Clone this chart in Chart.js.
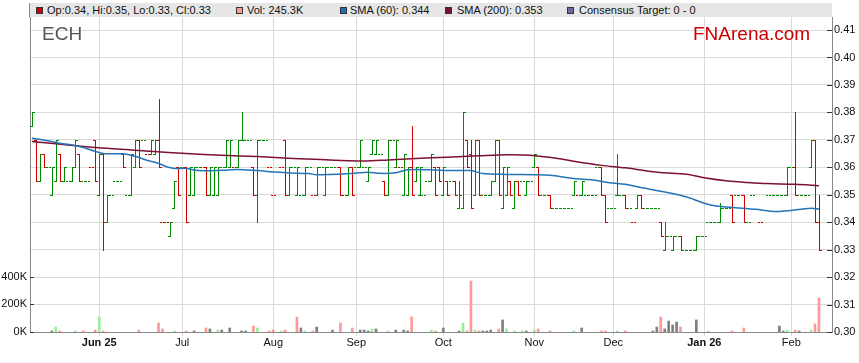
<!DOCTYPE html>
<html>
<head>
<meta charset="utf-8">
<script src="https://cdn.jsdelivr.net/npm/chart.js@4.4.1/dist/chart.umd.min.js"></script>
<style>
  body { margin: 0; background: #fff; font-family: "Liberation Sans", Arial, sans-serif; }
  #wrap { position: relative; width: 859px; height: 363px; }
  #wrap canvas { position: absolute; left: 0; top: 0; }
  #legend { position: absolute; left: 29px; top: 3px; width: 802px; height: 14px; background: #e6e6e6;
            border-left: 1px solid #888; font-size: 11px; line-height: 14px; color: #111; z-index: 2; }
  #legend .sw { position: absolute; top: 4px; width: 7px; height: 7px; box-sizing: border-box; border: 1px solid #333; }
  #legend .tx { position: absolute; top: 0; white-space: nowrap; }
  .mark { position: absolute; top: 24px; font-size: 19px; line-height: 19px; white-space: nowrap; z-index: 2; }
</style>
</head>
<body>
<div id="wrap">
  <canvas id="chart"></canvas>
  <div id="legend">
    <span class="sw" style="left:6px;background:#cc0000"></span><span class="tx" style="left:17px">Op:0.34, Hi:0.35, Lo:0.33, Cl:0.33</span>
    <span class="sw" style="left:206px;background:#ff9999"></span><span class="tx" style="left:217px">Vol: 245.3K</span>
    <span class="sw" style="left:310px;background:#1f6fb4"></span><span class="tx" style="left:320px">SMA (60): 0.344</span>
    <span class="sw" style="left:415px;background:#7d1035"></span><span class="tx" style="left:427px">SMA (200): 0.353</span>
    <span class="sw" style="left:537px;background:#6a6a9a"></span><span class="tx" style="left:549px">Consensus Target: 0 - 0</span>
  </div>
  <div class="mark" style="left:42px;color:#555">ECH</div>
  <div class="mark" style="left:693px;color:#cc0000">FNArena.com</div>
</div>
<script>
// x = trading-day index (weekdays), 0 = 8 May 2025, 199 = 11 Feb 2026
const monthIdx = [17, 38, 61, 82, 104, 127, 147, 170, 192];
const monthLabels = ['Jun 25', 'Jul', 'Aug', 'Sep', 'Oct', 'Nov', 'Dec', 'Jan 26', 'Feb'];
const priceTicks = [0.30, 0.31, 0.32, 0.33, 0.34, 0.35, 0.36, 0.37, 0.38, 0.39, 0.40, 0.41];
const volTicks = [0, 200, 400];

const open = [
  .375,.37,.355,.365,.36,.35,.355,.365,.355,.355,
  .355,.36,.365,.355,.355,.36,.37,.35,.365,.34,
  .35,.355,.355,.365,.35,.35,.36,.37,.37,.365,
  .365,.365,.37,.34,.34,.335,.345,.36,.36,.36,
  .35,.35,.36,.36,.36,.35,.35,.35,.36,.36,
  .36,.36,.36,.37,.37,.37,.36,.35,.37,.37,
  .36,.35,null,.36,.37,.35,.36,.35,.35,.35,
  .36,.35,.35,.36,.35,.36,.36,.36,.36,.35,
  .35,.36,.36,.36,.36,.355,.365,.365,.365,.355,
  .35,.37,.36,.36,.35,.35,.36,.355,.35,.35,
  .355,.355,.36,.36,.35,.355,.355,.355,.345,.345,
  .37,.365,.35,.37,.35,.35,.35,.355,.37,.345,
  .35,.355,.345,.355,.355,.35,.355,.36,.36,.35,
  .35,.35,.345,.345,.345,.345,.345,.35,.35,.35,
  .35,.35,.35,.36,.36,.35,.345,.345,.35,.35,
  .35,.345,.34,.345,.35,.345,.345,.345,.345,.34,
  .33,.335,.33,.335,.335,.33,.33,.33,.33,.335,
  .335,.34,.34,.34,.34,.345,.345,.35,.35,.35,
  .35,.34,.35,null,.34,null,.35,.35,.35,.35,
  .35,.35,.36,.36,.35,.35,.35,.36,.37,.34
];
const high = [
  .38,.37,.365,.365,.36,.36,.37,.365,.36,.355,
  .36,.37,.365,.355,.355,.36,.37,.365,.365,.35,
  .35,.355,.355,.365,.35,.365,.37,.37,.37,.365,
  .37,.37,.385,.34,.34,.34,.355,.36,.36,.36,
  .36,.36,.36,.36,.36,.36,.36,.36,.36,.37,
  .37,.36,.37,.38,.37,.37,.36,.37,.37,.37,
  .36,.35,null,.36,.37,.36,.36,.36,.35,.36,
  .36,.35,.36,.36,.36,.36,.36,.36,.36,.35,
  .36,.36,.36,.37,.36,.36,.37,.37,.365,.355,
  .37,.37,.37,.36,.365,.36,.375,.36,.36,.35,
  .355,.365,.36,.36,.36,.355,.355,.355,.355,.38,
  .37,.37,.37,.37,.35,.35,.355,.37,.37,.36,
  .36,.355,.355,.355,.355,.355,.355,.365,.36,.35,
  .35,.35,.345,.345,.345,.345,.345,.355,.35,.355,
  .35,.35,.35,.36,.36,.35,.345,.345,.365,.35,
  .35,.345,.34,.35,.35,.345,.345,.345,.345,.34,
  .34,.335,.335,.335,.335,.33,.33,.33,.335,.335,
  .335,.34,.34,.34,.347,.345,.345,.35,.35,.35,
  .35,.34,.35,null,.34,null,.35,.35,.35,.35,
  .35,.36,.36,.38,.35,.35,.35,.37,.37,.35
];
const low = [
  .375,.355,.355,.36,.36,.35,.355,.355,.355,.355,
  .355,.36,.355,.355,.355,.36,.355,.35,.33,.34,
  .35,.355,.355,.36,.35,.35,.36,.36,.37,.365,
  .365,.365,.36,.34,.34,.335,.345,.35,.36,.34,
  .35,.35,.36,.36,.35,.35,.35,.35,.36,.36,
  .36,.36,.36,.37,.37,.37,.35,.34,.37,.37,
  .36,.35,null,.36,.35,.35,.36,.35,.35,.35,
  .36,.35,.35,.36,.35,.36,.36,.36,.35,.35,
  .35,.35,.36,.36,.36,.355,.365,.365,.365,.35,
  .35,.37,.36,.36,.35,.35,.35,.355,.35,.35,
  .355,.355,.35,.355,.35,.35,.355,.35,.345,.345,
  .36,.345,.35,.35,.35,.35,.35,.355,.35,.345,
  .35,.35,.345,.35,.355,.35,.355,.36,.35,.35,
  .35,.345,.345,.345,.345,.345,.345,.35,.35,.35,
  .35,.35,.35,.36,.35,.34,.345,.345,.35,.35,
  .345,.345,.34,.345,.345,.345,.345,.345,.345,.335,
  .33,.335,.33,.335,.33,.33,.33,.33,.33,.335,
  .335,.34,.34,.34,.34,.345,.345,.34,.35,.35,
  .34,.34,.35,null,.34,null,.35,.35,.35,.35,
  .35,.35,.36,.35,.35,.35,.35,.36,.34,.33
];
const close = [
  .38,.355,.365,.36,.36,.36,.37,.355,.36,.355,
  .36,.37,.355,.355,.355,.36,.355,.365,.34,.35,
  .35,.355,.355,.36,.35,.365,.37,.36,.37,.365,
  .37,.37,.36,.34,.34,.34,.355,.35,.36,.34,
  .36,.36,.36,.36,.35,.36,.36,.36,.36,.37,
  .37,.36,.37,.37,.37,.37,.35,.37,.37,.37,
  .36,.35,null,.36,.35,.36,.36,.36,.35,.36,
  .36,.35,.36,.36,.36,.36,.36,.36,.35,.35,
  .36,.35,.36,.37,.36,.36,.37,.37,.365,.35,
  .37,.37,.37,.36,.365,.36,.35,.36,.36,.35,
  .355,.365,.35,.355,.36,.35,.355,.35,.35,.38,
  .36,.345,.37,.35,.35,.35,.355,.37,.35,.36,
  .36,.35,.355,.35,.355,.355,.355,.365,.35,.35,
  .35,.345,.345,.345,.345,.345,.345,.355,.35,.355,
  .35,.35,.35,.36,.35,.34,.345,.345,.35,.35,
  .345,.345,.34,.35,.345,.345,.345,.345,.345,.335,
  .335,.335,.335,.335,.33,.33,.33,.33,.335,.335,
  .335,.34,.34,.34,.345,.345,.345,.34,.35,.35,
  .34,.34,.35,null,.34,null,.35,.35,.35,.35,
  .35,.36,.36,.35,.35,.35,.35,.37,.34,.33
];
// unchanged days that were drawn red
const flatDown = [15, 29, 33, 34, 51, 60, 61, 63, 71, 79, 93, 138, 152, 184];

// volume in thousands; u = up, d = down, n = unchanged
const volDay = [5,6,7,11,13,16,17,18,27,32,33,36,39,41,44,45,47,48,50,53,54,56,57,60,61,63,64,67,68,69,
  71,72,76,78,81,83,84,85,86,87,90,92,94,95,96,101,102,104,108,109,110,111,112,113,114,115,116,118,119,120,
  122,124,125,127,128,131,137,139,144,145,148,150,157,158,159,160,161,162,163,164,168,171,177,180,189,190,191,193,194,197,198,199];
const volK = [7,36,7,7,7,14,108,7,14,65,22,7,7,7,29,22,14,14,29,7,7,43,29,7,14,7,14,108,29,7,
  7,36,14,65,29,14,14,7,22,22,7,14,14,7,108,14,7,29,7,65,7,368,14,7,7,7,14,22,87,22,
  7,7,7,14,22,7,7,29,7,7,7,7,7,36,108,22,79,51,72,36,87,7,7,29,43,7,14,14,7,14,58,245.3];
const volDir = ('nududduddd' + 'dudndnunnn' + 'ndudduddnu' + 'dnnddnnnun' + 'unnndudnnu' +
  'ddudnnndnu' + 'uunuddundd' + 'udnndnnnnd' + 'nuddnnudnu' + 'dd').split('');

// moving averages: [day index, value]
const sma60 = [[0,.3706],[4,.3697],[7,.3688],[12,.3676],[16,.3658],[18,.3650],[23,.3649],[26,.3640],
  [29,.3626],[32,.3614],[34,.3602],[36,.3596],[39,.3596],[42,.3588],[48,.3589],[52,.3592],[56,.3589],
  [61,.3583],[65,.3579],[70,.3577],[72,.3573],[80,.3577],[85,.3582],[88,.3578],[92,.3580],[95,.3591],
  [101,.3591],[105,.3588],[111,.3588],[114,.3577],[120,.3574],[127,.3573],[131,.3571],[137,.3559],
  [142,.3554],[146,.3544],[150,.3538],[154,.3526],[161,.3507],[166,.3490],[170,.3469],[173,.3459],
  [178,.3453],[183,.3447],[188,.3439],[191,.3442],[197,.3451],[199,.3447]];
const sma200 = [[0,.3694],[8,.3683],[16,.3672],[24,.3665],[30,.3658],[39,.3650],[48,.3644],[57,.3639],
  [66,.3632],[73,.3628],[80,.3624],[84,.3623],[90,.3627],[97,.3632],[105,.3637],[113,.3642],[120,.3646],
  [126,.3644],[133,.3632],[137,.3622],[144,.3607],[150,.3598],[156,.3586],[161,.3579],[166,.3574],
  [170,.3562],[176,.3550],[181,.3545],[186,.3541],[193,.3538],[199,.3533]];

const GREEN = '#008a00';
const RED = '#d40000';
const GRID = '#d9d9d9';
const AXIS = '#888888';
const volColors = { u: '#99ee99', d: '#ff9999', n: '#808080' };

// open/high/low/close bars drawn with the chart's own scales
const ohlcPlugin = {
  id: 'ohlc',
  beforeDatasetsDraw(chart) {
    const { ctx, scales: { x, y } } = chart;
    ctx.save();
    for (let i = 0; i < open.length; i++) {
      if (open[i] == null) continue;
      const up = close[i] > open[i] || (close[i] === open[i] && !flatDown.includes(i));
      ctx.fillStyle = up ? GREEN : RED;
      const px = Math.round(x.getPixelForValue(i));
      const yh = Math.round(y.getPixelForValue(high[i]));
      const yl = Math.round(y.getPixelForValue(low[i]));
      if (yl > yh) ctx.fillRect(px, yh, 1, yl - yh + 1);
      ctx.fillRect(px - 2, Math.round(y.getPixelForValue(open[i])), 2, 1);
      ctx.fillRect(px + 1, Math.round(y.getPixelForValue(close[i])), 2, 1);
    }
    ctx.restore();
  }
};

// small tick marks pointing into the plot on both value axes
const innerTicks = {
  id: 'innerTicks',
  afterDraw(chart) {
    const { ctx, chartArea, scales } = chart;
    ctx.save();
    ctx.fillStyle = '#333';
    scales.y.ticks.forEach(t => {
      ctx.fillRect(chartArea.right - 5, Math.round(scales.y.getPixelForValue(t.value)), 5, 1);
    });
    scales.vol.ticks.forEach(t => {
      ctx.fillRect(chartArea.left, Math.round(scales.vol.getPixelForValue(t.value)), 4, 1);
    });
    ctx.restore();
  }
};

Chart.defaults.font.family = '"Liberation Sans", Arial, sans-serif';
Chart.defaults.font.size = 11;
Chart.defaults.color = '#111';

new Chart(document.getElementById('chart'), {
  type: 'bar',
  data: {
    datasets: [
      {
        type: 'line',
        data: sma60.map(([d, v]) => ({ x: d, y: v })),
        yAxisID: 'y',
        borderColor: '#2574b6',
        borderWidth: 1.5,
        pointRadius: 0,
        tension: 0.3,
        order: 0
      },
      {
        type: 'line',
        data: sma200.map(([d, v]) => ({ x: d, y: v })),
        yAxisID: 'y',
        borderColor: '#7d1035',
        borderWidth: 1.5,
        pointRadius: 0,
        tension: 0.3,
        order: 0
      },
      {
        type: 'bar',
        data: volDay.map((d, k) => ({ x: d, y: volK[k] })),
        yAxisID: 'vol',
        backgroundColor: volDir.map(c => volColors[c]),
        barThickness: 2,
        borderWidth: 0,
        order: 1
      }
    ]
  },
  options: {
    responsive: true,
    maintainAspectRatio: false,
    animation: false,
    events: [],
    layout: { padding: { top: 17, left: 0, right: 0, bottom: 0 } },
    plugins: { legend: { display: false }, tooltip: { enabled: false } },
    scales: {
      x: {
        type: 'linear',
        min: -0.5,
        max: 202.3,
        offset: false,
        grid: { color: GRID, tickLength: 4, tickColor: GRID, offset: false },
        border: { color: AXIS },
        afterBuildTicks: s => { s.ticks = monthIdx.map(v => ({ value: v })); },
        afterFit: s => { s.height = 31; },
        ticks: {
          autoSkip: false,
          maxRotation: 0,
          padding: 0,
          color: '#111',
          callback: v => monthLabels[monthIdx.indexOf(v)],
          font: c => ({ size: 11, weight: /\d/.test(monthLabels[c.index] || '') ? 'bold' : 'normal' })
        }
      },
      y: {
        position: 'right',
        min: 0.30,
        max: 0.41475,
        grid: { color: GRID, drawTicks: false },
        border: { color: AXIS },
        afterBuildTicks: s => { s.ticks = priceTicks.map(v => ({ value: v })); },
        afterFit: s => { s.width = 27; },
        ticks: { padding: 2, color: '#111', callback: v => v.toFixed(2) }
      },
      vol: {
        position: 'left',
        min: 0,
        max: 2274,
        grid: { display: false, drawTicks: false },
        border: { color: AXIS },
        afterBuildTicks: s => { s.ticks = volTicks.map(v => ({ value: v })); },
        afterFit: s => { s.width = 30; },
        ticks: { padding: 3, color: '#111', callback: v => v + 'K' }
      }
    }
  },
  plugins: [ohlcPlugin, innerTicks]
});
</script>
</body>
</html>
